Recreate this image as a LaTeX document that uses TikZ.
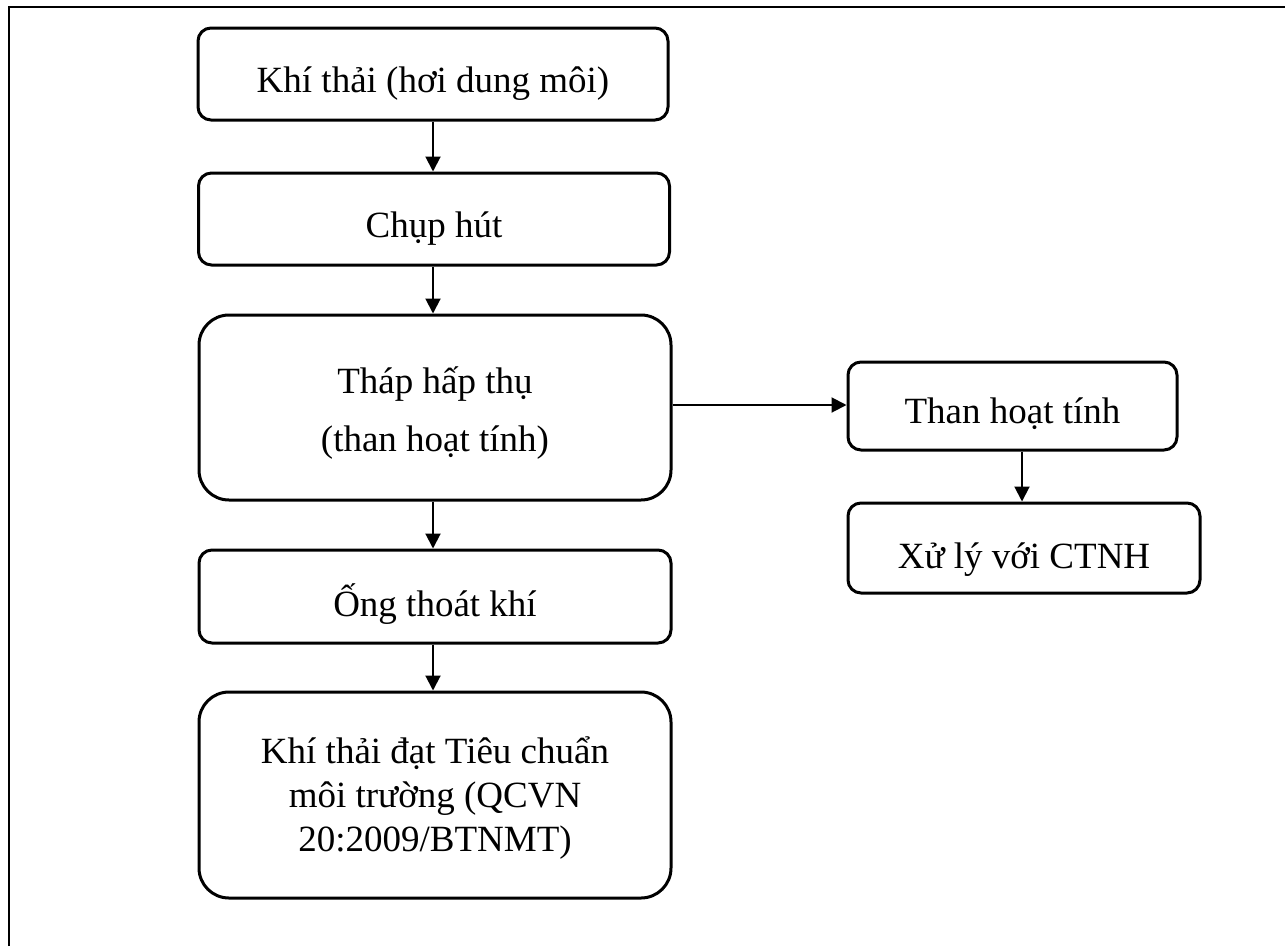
\documentclass[tikz,border=0pt]{standalone}
\usepackage{fontspec}
\setmainfont{Liberation Serif}
\usetikzlibrary{arrows.meta}
\tikzset{
  stepbox/.style={draw, line width=3pt, rounded corners=13pt, inner sep=0pt},
  bigbox/.style={stepbox, rounded corners=30pt},
  txt/.style={align=center, inner sep=0pt, font=\fontsize{37}{44}\selectfont},
  flow/.style={line width=2pt, -{Triangle[length=15pt,width=15pt]}},
  frameline/.style={line width=2.5pt}
}
\begin{document}
\begin{tikzpicture}[x=1pt,y=-1pt]
  \useasboundingbox (0,0) rectangle (1285,946);
  % page frame: top and left edges
  \coordinate (fbl) at (9,946);
  \coordinate (ftl) at (9,7);
  \coordinate (ftr) at (1285,7);
  \draw[frameline] (fbl) -- (ftl) -- (ftr);

  % main column
  \node[stepbox, minimum width=470pt, minimum height=92pt,
    label={[txt, yshift=-10pt]center:Khí thải (hơi dung môi)}] (b1) at (433,74) {};
  \node[stepbox, minimum width=471pt, minimum height=92pt,
    label={[txt, yshift=-10pt]center:Chụp hút}] (b2) at (434,219) {};
  \node[bigbox, minimum width=472pt, minimum height=185pt,
    label={[txt, yshift=-6pt]center:Tháp hấp thụ\\[14pt](than hoạt tính)}] (b3) at (435,407.5) {};
  \node[stepbox, minimum width=472pt, minimum height=93pt,
    label={[txt, yshift=-8pt]center:Ống thoát khí}] (b4) at (435,596.5) {};
  \node[bigbox, minimum width=472pt, minimum height=206pt,
    label={[txt, yshift=-3pt]center:Khí thải đạt Tiêu chuẩn\\môi trường (QCVN\\20:2009/BTNMT)}] (b5) at (435,795) {};

  % side branch
  \node[stepbox, minimum width=329pt, minimum height=88pt,
    label={[txt, yshift=-8pt]center:Than hoạt tính}] (b6) at (1012.5,406) {};
  \node[stepbox, minimum width=352pt, minimum height=90pt,
    label={[txt, yshift=-12pt]center:Xử lý với CTNH}] (b7) at (1024,548) {};

  % connectors
  \draw[flow] (b1.south -| 433,0) -- (b2.north -| 433,0);
  \draw[flow] (b2.south -| 433,0) -- (b3.north -| 433,0);
  \draw[flow] (b3.south -| 433,0) -- (b4.north -| 433,0);
  \draw[flow] (b4.south -| 433,0) -- (b5.north -| 433,0);
  \draw[flow] (b3.east |- 0,405) -- (b6.west |- 0,405);
  \draw[flow] (b6.south -| 1022,0) -- (b7.north -| 1022,0);
\end{tikzpicture}
\end{document}
